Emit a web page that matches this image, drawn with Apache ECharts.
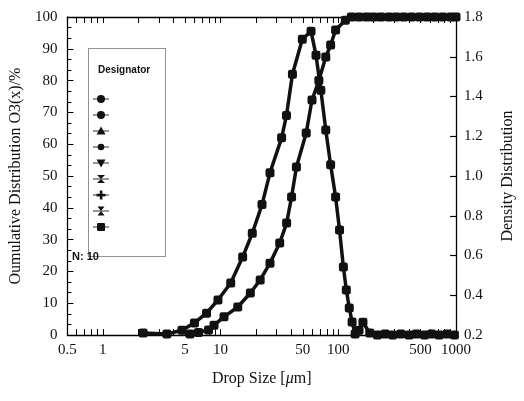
<!DOCTYPE html>
<html>
<head>
<meta charset="utf-8">
<script src="https://cdn.jsdelivr.net/npm/echarts@6/dist/echarts.min.js"></script>
<style>html,body{margin:0;padding:0;background:#fff}#c{width:524px;height:401px}</style>
</head>
<body>
<div id="c"></div>
<script>
// Drop sizes [µm] and cumulative distribution Q3 [%]
const cumSizes = [5.5, 6.5, 7.9, 8.8, 10.7, 14.0, 17.9, 21.7, 26.3, 31.8, 36.4, 40.1, 44.1, 53.4, 59.8, 68.4, 78.3, 86.1, 94.9, 114.8, 129, 150, 175, 200, 230, 270, 310, 360, 420, 490, 570, 660, 770, 900, 1000];
const cumValues = [0.3, 0.8, 1.6, 3.1, 5.7, 8.8, 13.2, 17.3, 22.6, 28.9, 35.2, 43.4, 52.8, 63.5, 73.9, 80, 87.4, 91.2, 95.9, 99, 100, 100, 100, 100, 100, 100, 100, 100, 100, 100, 100, 100, 100, 100, 100];
// Drop sizes [µm] and density distribution
const denSizes = [2.2, 3.5, 4.7, 6.0, 7.6, 9.5, 12.2, 15.4, 18.6, 22.5, 26.3, 33, 36.3, 40.8, 49.5, 58.7, 64.7, 71.1, 78.3, 86.1, 94.9, 102.5, 110.5, 117, 124, 131, 139, 150, 162, 185, 215, 250, 290, 340, 400, 460, 540, 620, 720, 840, 970];
const denValues = [0.21, 0.205, 0.224, 0.261, 0.31, 0.376, 0.462, 0.592, 0.712, 0.856, 1.016, 1.192, 1.304, 1.512, 1.688, 1.728, 1.608, 1.432, 1.232, 1.056, 0.894, 0.728, 0.542, 0.427, 0.336, 0.266, 0.205, 0.224, 0.264, 0.21, 0.2, 0.205, 0.2, 0.205, 0.2, 0.205, 0.2, 0.205, 0.2, 0.205, 0.2];
// Tick labels
const xLabelValues = [0.5, 1, 5, 10, 50, 100, 500, 1000];
const xTickValues = [0.5, 0.6, 0.7, 0.8, 0.9, 1, 2, 3, 4, 5, 6, 7, 8, 9, 10, 20, 30, 40, 50, 60, 70, 80, 90, 100, 200, 300, 400, 500, 600, 700, 800, 900, 1000];
const legendTitle = 'Designator';
const noteText = 'N: 10';

const serif = '"Liberation Serif", "DejaVu Serif", serif';
const chart = echarts.init(document.getElementById('c'), null, {renderer: 'canvas'});

const cumData = cumSizes.map((s, i) => [s, cumValues[i]]);
const denData = denSizes.map((s, i) => [s, denValues[i]]);

const lx = 101;
const legendYs = [99, 115, 131, 147, 163, 179, 195, 211, 227];
const legendGraphics = [];
legendGraphics.push({type: 'rect', shape: {x: 88.5, y: 48.5, width: 77, height: 208}, style: {fill: '#fff', stroke: '#222', lineWidth: 1, lineDash: [1, 1]}, z: 10});
legendGraphics.push({type: 'text', x: 98, y: 65, style: {text: legendTitle, font: 'bold 10px "Liberation Sans", sans-serif', fill: '#111'}, z: 11});
legendYs.forEach((y) => {
  legendGraphics.push({type: 'line', shape: {x1: lx - 8, y1: y, x2: lx + 8, y2: y}, style: {stroke: '#333', lineWidth: 1}, z: 11});
});
const blk = {fill: '#111'};
legendGraphics.push({type: 'circle', shape: {cx: lx, cy: legendYs[0], r: 4}, style: blk, z: 12});
legendGraphics.push({type: 'circle', shape: {cx: lx, cy: legendYs[1], r: 4}, style: blk, z: 12});
legendGraphics.push({type: 'polygon', shape: {points: [[lx, legendYs[2] - 4.5], [lx - 4.5, legendYs[2] + 3.5], [lx + 4.5, legendYs[2] + 3.5]]}, style: blk, z: 12});
legendGraphics.push({type: 'circle', shape: {cx: lx, cy: legendYs[3], r: 3.3}, style: blk, z: 12});
legendGraphics.push({type: 'polygon', shape: {points: [[lx - 4.5, legendYs[4] - 3.5], [lx + 4.5, legendYs[4] - 3.5], [lx, legendYs[4] + 4.5]]}, style: blk, z: 12});
legendGraphics.push({type: 'polygon', shape: {points: [[lx - 4, legendYs[5] - 4], [lx + 4, legendYs[5] - 4], [lx - 4, legendYs[5] + 4], [lx + 4, legendYs[5] + 4]]}, style: blk, z: 12});
legendGraphics.push({type: 'rect', shape: {x: lx - 1.2, y: legendYs[6] - 4.5, width: 2.6, height: 9}, style: blk, z: 12});
legendGraphics.push({type: 'rect', shape: {x: lx - 4.5, y: legendYs[6] - 1.2, width: 9, height: 2.6}, style: blk, z: 12});
legendGraphics.push({type: 'polygon', shape: {points: [[lx - 3.5, legendYs[7] - 4.5], [lx + 3.5, legendYs[7] - 4.5], [lx - 3.5, legendYs[7] + 4.5], [lx + 3.5, legendYs[7] + 4.5]]}, style: blk, z: 12});
legendGraphics.push({type: 'rect', shape: {x: lx - 4, y: legendYs[8] - 4, width: 8, height: 8, r: 1}, style: blk, z: 12});
legendGraphics.push({type: 'text', x: 72, y: 251, style: {text: noteText, font: 'bold 11px "Liberation Sans", sans-serif', fill: '#111'}, z: 13});

const axisLine = {show: true, lineStyle: {color: '#000', width: 1.3}};
const tickLabelStyle = {fontFamily: serif, fontSize: 15, color: '#111'};

chart.setOption({
  animation: false,
  backgroundColor: '#fff',
  grid: {left: 63, right: 64, top: 17, bottom: 66, show: false},
  xAxis: [
    {
      type: 'log', logBase: 10, min: 0.5, max: 1000, position: 'bottom',
      name: 'Drop Size [{i|μ}m]', nameLocation: 'middle', nameGap: 36,
      nameTextStyle: {fontFamily: serif, fontSize: 16, color: '#111', rich: {i: {fontFamily: serif, fontStyle: 'italic', fontSize: 16}}},
      axisLine: axisLine,
      axisTick: {show: true, inside: true, length: 6, customValues: xTickValues, lineStyle: {color: '#000', width: 1}},
      axisLabel: {show: true, customValues: xLabelValues, margin: 8, ...tickLabelStyle, formatter: (v) => String(+v.toPrecision(6))},
      splitLine: {show: false}, minorTick: {show: false}
    },
    {
      type: 'log', logBase: 10, min: 0.5, max: 1000, position: 'top',
      axisLine: axisLine,
      axisTick: {show: true, inside: true, length: 6, customValues: xTickValues, lineStyle: {color: '#000', width: 1}},
      axisLabel: {show: false}, splitLine: {show: false}
    }
  ],
  yAxis: [
    {
      type: 'value', min: 0, max: 100, interval: 10, position: 'left',
      name: 'Oumulative Distribution O3(x)/%', nameLocation: 'middle', nameGap: 38,
      nameTextStyle: {fontFamily: serif, fontSize: 16, color: '#111'},
      axisLine: axisLine,
      axisTick: {show: true, inside: true, length: 6, lineStyle: {color: '#000', width: 1}},
      minorTick: {show: true, splitNumber: 3, length: 4, lineStyle: {color: '#000', width: 1}},
      axisLabel: {margin: 10, ...tickLabelStyle},
      splitLine: {show: false}
    },
    {
      type: 'value', min: 0.2, max: 1.8, interval: 0.2, position: 'right',
      name: 'Density Distribution', nameLocation: 'middle', nameGap: 44,
      nameTextStyle: {fontFamily: serif, fontSize: 16, color: '#111'},
      axisLine: axisLine,
      axisTick: {show: true, inside: true, length: 6, lineStyle: {color: '#000', width: 1.2}},
      axisLabel: {margin: 8, ...tickLabelStyle, formatter: (v) => v.toFixed(1)},
      splitLine: {show: false}
    }
  ],
  series: [
    {
      type: 'line', name: 'Q3', xAxisIndex: 0, yAxisIndex: 0, data: cumData,
      symbol: 'roundRect', symbolSize: 9, showAllSymbol: true,
      lineStyle: {color: '#111', width: 3.5}, itemStyle: {color: '#111'}, z: 3
    },
    {
      type: 'line', name: 'q3', xAxisIndex: 0, yAxisIndex: 1, data: denData,
      symbol: 'roundRect', symbolSize: 9, showAllSymbol: true,
      lineStyle: {color: '#111', width: 3.5}, itemStyle: {color: '#111'}, z: 3
    }
  ],
  graphic: legendGraphics
});
</script>
</body>
</html>
